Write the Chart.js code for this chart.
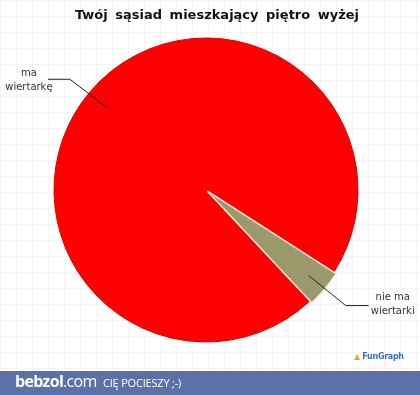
<!DOCTYPE html>
<html>
<head>
<meta charset="utf-8">
<script src="https://cdn.jsdelivr.net/npm/chart.js@4"></script>
<style>
  body { margin: 0; width: 420px; height: 395px; overflow: hidden; background: #fff; font-family: "DejaVu Sans", sans-serif; }
  #wrap { position: absolute; left: 0; top: 0; width: 420px; height: 371px;
    background-color: #fff;
    background-image: linear-gradient(#f5f5f5 1px, transparent 1px), linear-gradient(90deg, #f5f5f5 1px, transparent 1px);
    background-size: 16px 16px; }
  #title { position: absolute; left: 0; width: 434px; top: 7px; text-align: center; font: bold 13px "DejaVu Sans", sans-serif; color: #111; word-spacing: 3px; }
  #logo { position: absolute; left: 354px; top: 352px; font: bold 8px "DejaVu Sans", sans-serif; color: #3a6fc0; letter-spacing: -0.3px; }
  #logo b { color: #e0b020; }
  #bar { position: absolute; left: 0; top: 371px; width: 420px; height: 24px; background: #5b72a8; color: #fff; }
  #bar .site { position: absolute; left: 15px; top: -1px; font: bold 16px "Open Sans", sans-serif; letter-spacing: -0.7px; white-space: nowrap; }
  #bar .site span { font-weight: normal; letter-spacing: -0.7px; }
  #bar .tag { position: absolute; left: 103px; top: 4px; font: 11px "Open Sans", sans-serif; letter-spacing: -0.2px; white-space: nowrap; }
</style>
</head>
<body>
<div id="wrap"><canvas id="myChart" width="420" height="371"></canvas></div>
<div id="title">Twój sąsiad mieszkający piętro wyżej</div>
<div id="logo"><b>&#9650;</b> FunGraph</div>
<div id="bar"><div class="site">bebzol<span>.com</span></div><div class="tag">CIĘ POCIESZY ;-)</div></div>
<script>
// categories and values
const labels = ["ma wiertarkę", "nie ma wiertarki"];
const values = [96, 4];
const colors = ["#ff0000", "#9a9a6c"];

// leader lines and labels next to the slices
const sliceLabels = {
  id: "sliceLabels",
  afterDatasetsDraw(chart) {
    const ctx = chart.ctx;
    const arcs = chart.getDatasetMeta(0).data;
    ctx.save();
    ctx.strokeStyle = "#222";
    ctx.lineWidth = 1;
    ctx.fillStyle = "#333";
    ctx.font = "10px 'DejaVu Sans'";
    ctx.textAlign = "center";
    ctx.textBaseline = "middle";
    arcs.forEach((arc, i) => {
      const p = arc.getProps(["x", "y", "startAngle", "endAngle", "outerRadius"], true);
      const mid = (p.startAngle + p.endAngle) / 2;
      const off = i === 1 ? 6 : 0;
      const r = p.outerRadius * 0.84 + off;
      const ax = p.x + Math.cos(mid) * r;
      const ay = p.y + Math.sin(mid) * r;
      const words = labels[i].split(" ");
      const line2 = words.pop();
      const line1 = words.join(" ");
      let ex, ey, hx, tx;
      if (Math.cos(mid) < 0) {
        ex = ax - 38; ey = ay - 29; hx = ex - 22; tx = hx - 19;
      } else {
        ex = ax + 37; ey = ay + 30; hx = ex + 23; tx = hx + 24;
      }
      ctx.beginPath();
      ctx.moveTo(ax, ay);
      ctx.lineTo(ex, ey);
      ctx.lineTo(hx, ey);
      ctx.stroke();
      const ty = i === 1 ? ey - 2 : ey;
      ctx.fillText(line1, tx, ty - 6);
      ctx.fillText(line2, tx, ty + 8);
    });
    ctx.restore();
  }
};

const ctx = document.getElementById("myChart").getContext("2d");
const myChart = new Chart(ctx, {
  type: "pie",
  data: {
    labels: labels,
    datasets: [
      {
        data: values,
        backgroundColor: colors,
        borderColor: ["#d80000", "#f8e8dc"],
        borderWidth: [1, 1.5],
        offset: [0, 6],
      },
    ],
  },
  options: {
    responsive: false,
    animation: false,
    rotation: 137,
    radius: 152,
    layout: { padding: { left: 0, right: 8, top: 10, bottom: 1 } },
    plugins: {
      legend: { display: false },
      tooltip: { enabled: false },
    },
  },
  plugins: [sliceLabels],
});
</script>
</body>
</html>
